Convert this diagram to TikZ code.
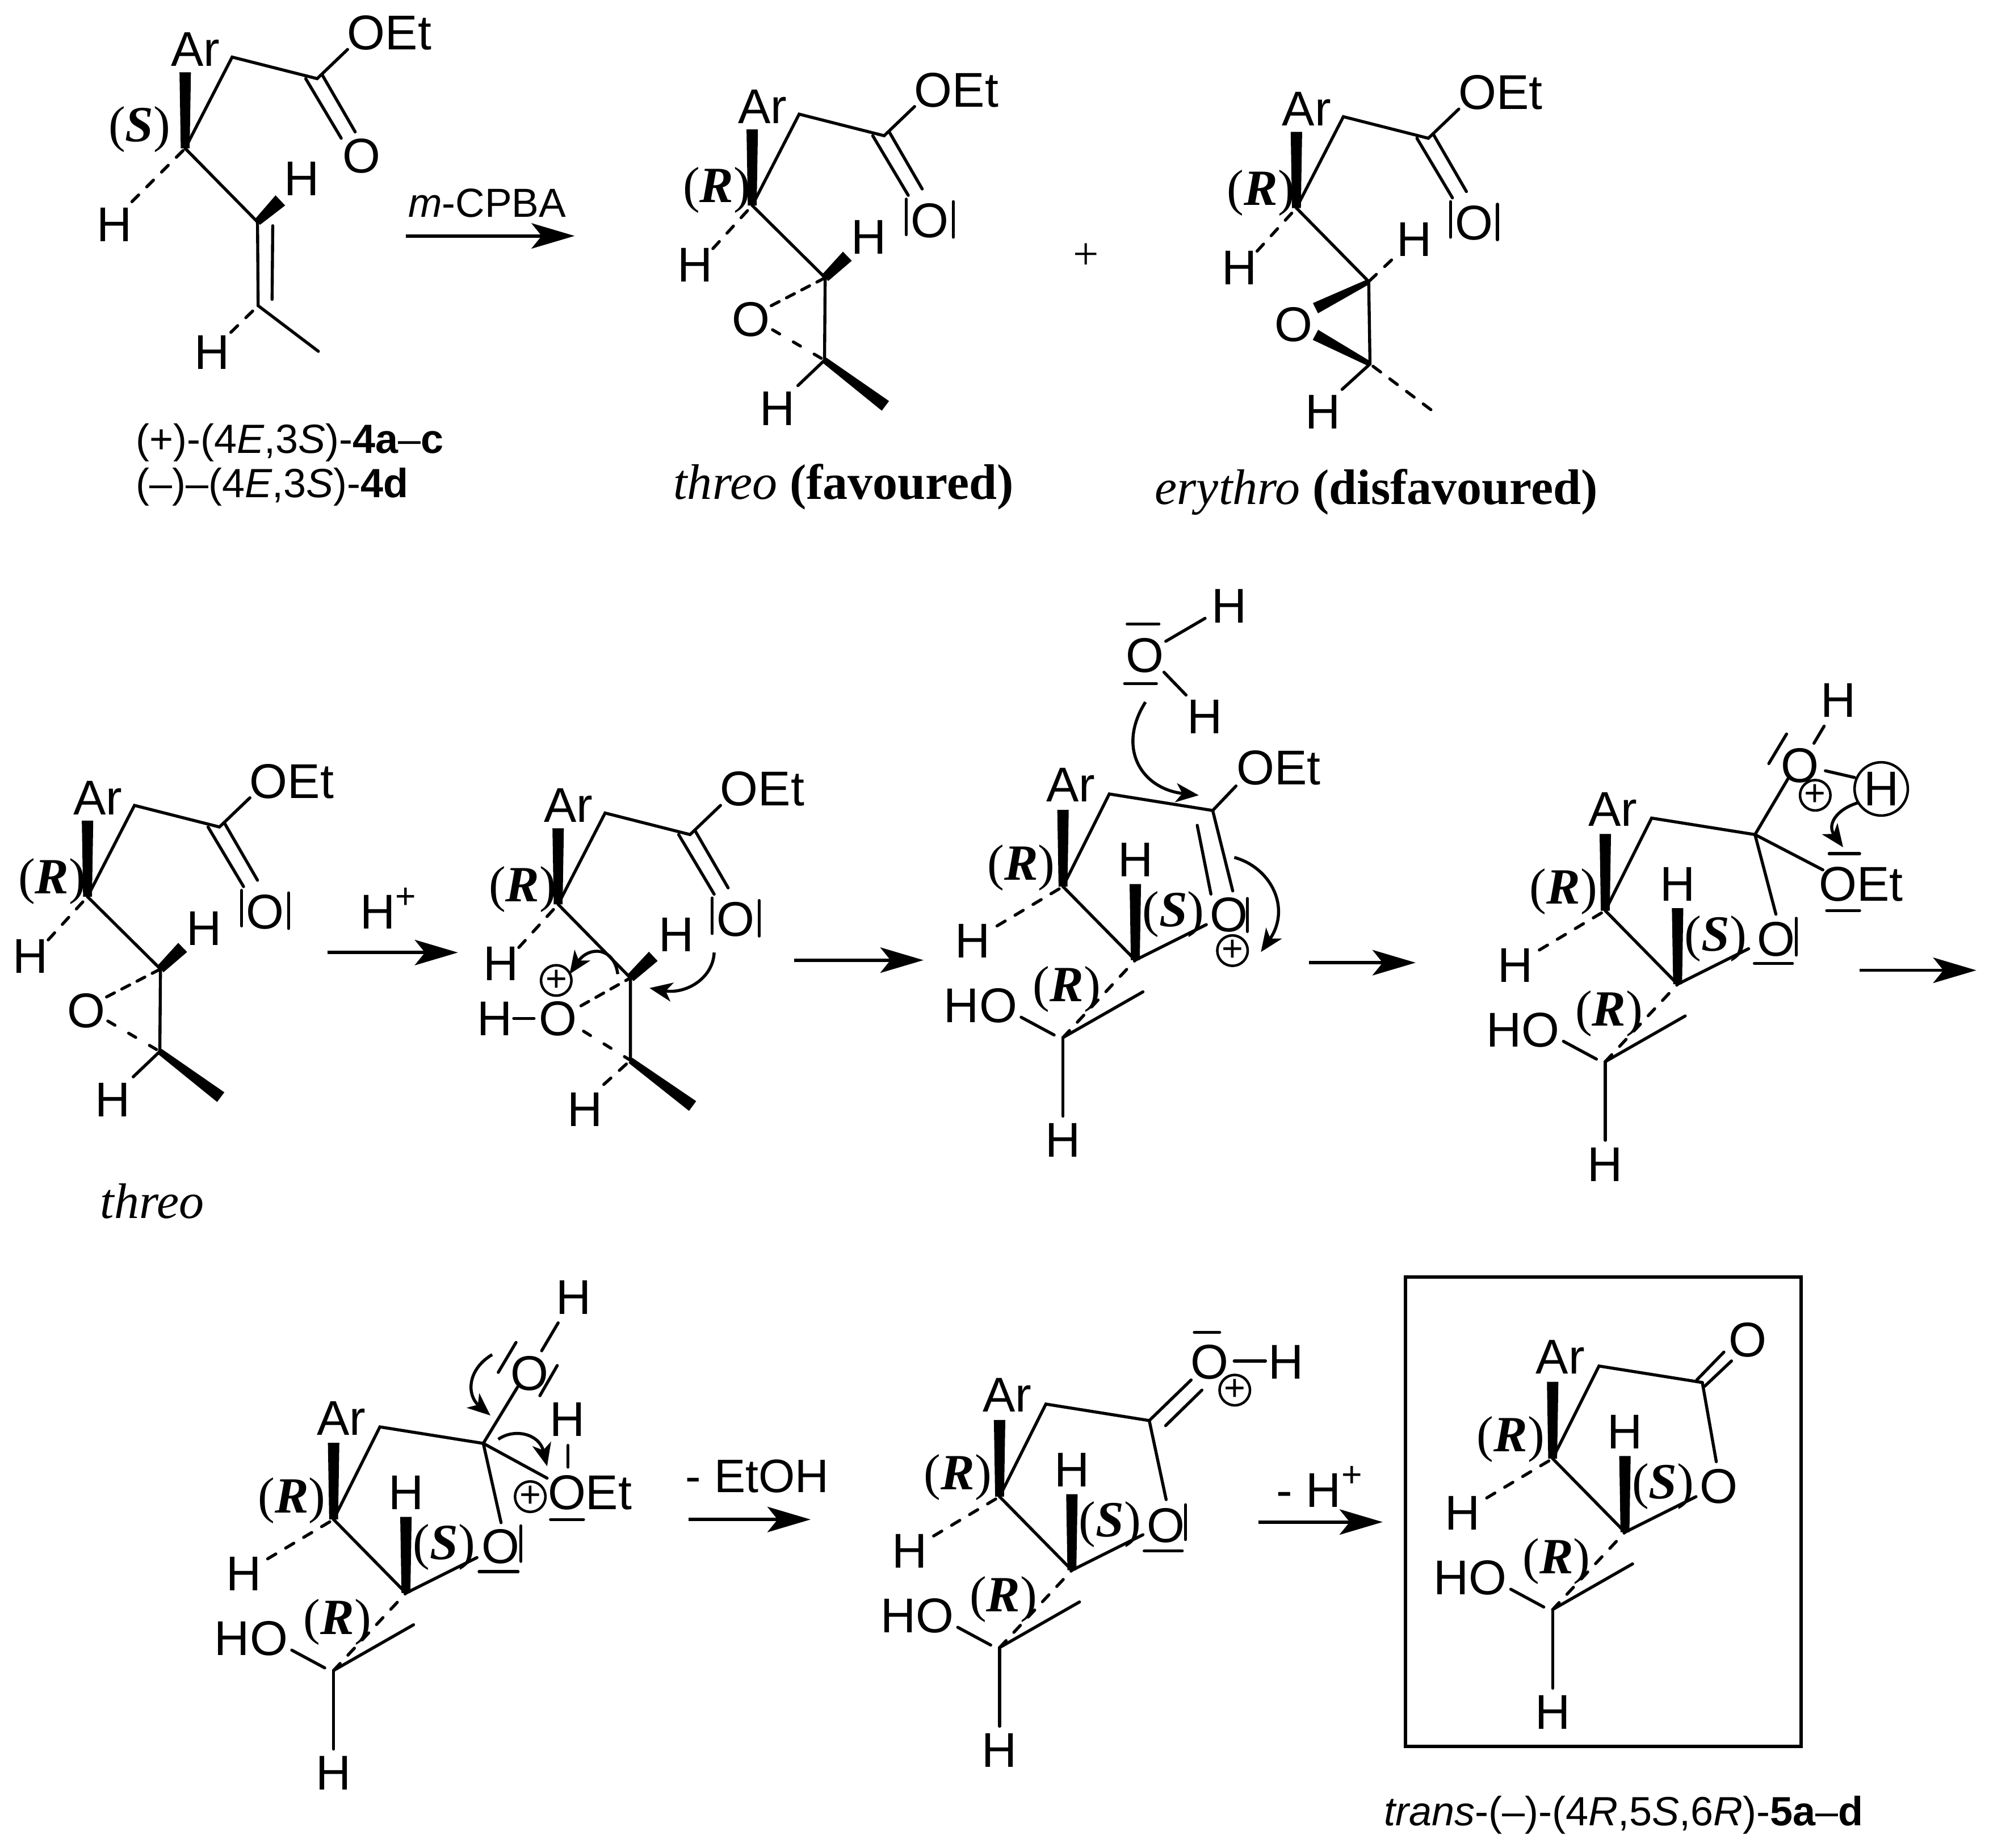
\documentclass[tikz,border=0pt]{standalone}
\usepackage{fontspec}
\setmainfont{Liberation Sans}
\newfontfamily\tnr{Liberation Serif}
\usetikzlibrary{calc,arrows.meta}
\tikzset{
  bond/.style={line width=2.4pt,line cap=round},
  dbond/.style={line width=2.4pt,line cap=round,dash pattern=on 7.5pt off 9pt},
  dtight/.style={line width=2.4pt,line cap=round,dash pattern=on 7pt off 6.5pt},
  dwide/.style={line width=2.4pt,line cap=round,dash pattern=on 6.5pt off 12.5pt},
  lab/.style={inner sep=0pt,font=\fontsize{38.5}{44}\selectfont},
  stlab/.style={inner sep=0pt,font=\fontsize{40}{44}\selectfont\tnr},
  captext/.style={inner sep=0pt,anchor=west,font=\fontsize{32.2}{36}\selectfont},
  seriflab/.style={inner sep=0pt,font=\fontsize{39.4}{46}\selectfont\tnr},
  rxn/.style={line width=2.6pt,-{Stealth[length=34pt,width=20pt,inset=8pt]}},
  carrow/.style={line width=2.4pt,-{Stealth[length=18pt,width=15pt,inset=5pt]}},
  pc/.style={circle,draw,line width=2pt,minimum size=24pt,inner sep=0pt,font=\fontsize{29}{29}\selectfont}
}
\newcommand\wbond[4]{\fill ($#1!#3/2!90:#2$) -- ($#1!#3/2!-90:#2$) -- ($#2!#4/2!90:#1$) -- ($#2!#4/2!-90:#1$) -- cycle;}
\newcommand\lp[3]{\draw[bond] ([shift={(#2)}]#1.center) -- ([shift={(#3)}]#1.center);}
\newcommand\st[1]{(\textbf{\textit{#1}})}
\newcommand\hpl[1]{\raisebox{.42em}{\fontsize{28}{28}\selectfont #1}}
\newcommand\rxnarrow[4]{\coordinate (#1s) at (#2,#4); \coordinate (#1e) at (#3,#4); \draw[rxn] (#1s) -- (#1e);}
% open-chain ester part, relative to the stereocentre
\newcommand\esterhead{%
  \coordinate (c3) at (0,0); \coordinate (wt) at (0,-60);
  \coordinate (ch2) at (37,-72); \coordinate (c1) at (104,-55); \coordinate (oe) at (128,-78);
  \coordinate (da) at (95,-55); \coordinate (db) at (123,-8);
  \coordinate (dc) at (108,-58); \coordinate (dd) at (134,-13);
  \node[lab] (ar) at (8,-78) {Ar};
  \node[lab] (oet) at (161,-91) {OEt};
  \wbond{(c3)}{(wt)}{7pt}{9pt}
  \draw[bond] (c3) -- (ch2) -- (c1) -- (oe);
  \draw[bond] (da) -- (db); \draw[bond] (dc) -- (dd);
}
\newcommand\barredO{%
  \node[lab] (o) at (140,12) {O};
  \lp{o}{-18.5,-17}{-18.5,11}\lp{o}{18.5,-15}{18.5,13}}
\newcommand\hdashR[1]{%
  \coordinate (hd) at (-31,34); \node[lab] (hl) at (-45,47) {H};
  \draw[dbond] (hd) -- (c3);
  \node[stlab] (st) at (-28,-12) {\st{#1}};}
% threo epoxide, relative to the stereocentre
\newcommand\threoepox{%
  \esterhead\barredO\hdashR{R}
  \coordinate (c4) at (57.5,57); \coordinate (c5) at (57,122);
  \coordinate (hw) at (75,40); \coordinate (me) at (105,158); \coordinate (hs) at (36,142);
  \node[lab] (h4) at (92,25) {H}; \node[lab] (h5) at (20,160) {H};
  \node[lab] (oep) at (-1,90) {O};
  \coordinate (oa) at (15,79); \coordinate (ob) at (16,98);
  \draw[bond] (c3) -- (c4) -- (c5);
  \wbond{(c4)}{(hw)}{7pt}{10pt}
  \wbond{(c5)}{(me)}{5pt}{9.5pt}
  \draw[dtight] (oa) -- (c4); \draw[dwide] (ob) -- (c5);
  \draw[bond] (c5) -- (hs);}
% lactone-ring core, relative to the stereocentre
\newcommand\lactonecore{%
  \coordinate (c3) at (0,0); \coordinate (wt) at (0,-60.5);
  \coordinate (ch2) at (36.5,-73); \coordinate (c1) at (118,-60);
  \coordinate (c5) at (57,58); \coordinate (wt5) at (57,-2); \coordinate (o5) at (113,30);
  \coordinate (hd) at (-52,31); \coordinate (lc) at (0,119);
  \coordinate (hob) at (-33,103); \coordinate (hoe) at (-7,117);
  \coordinate (me) at (63,83); \coordinate (hb) at (0,181);
  \node[lab] (ar) at (6,-80) {Ar};
  \node[lab] (h5) at (57,-21) {H};
  \node[lab] (hl) at (-71,43) {H};
  \node[lab] (ho) at (-65,94) {HO};
  \node[lab] (hbl) at (0,200) {H};
  \node[stlab] (st1) at (-33,-15) {\st{R}};
  \node[stlab] (st2) at (87,22) {\st{S}};
  \node[stlab] (st3) at (3,81) {\st{R}};
  \wbond{(c3)}{(wt)}{7pt}{9pt}
  \wbond{(c5)}{(wt5)}{7pt}{9pt}
  \draw[bond] (c3) -- (ch2) -- (c1);
  \draw[bond] (c3) -- (c5) -- (o5);
  \draw[dbond] (hd) -- (c3);
  \draw[dbond] (lc) -- (c5);
  \draw[bond] (hob) -- (hoe);
  \draw[bond] (lc) -- (me);
  \draw[bond] (lc) -- (hb);}
\begin{document}
\begin{tikzpicture}[x=1pt,y=-1pt]
\path[use as bounding box,fill=white] (0,0) rectangle (1568,1457);

% ---- starting alkene
\begin{scope}[shift={(146,117)},name prefix=A-]
  \esterhead
  \node[lab] (o) at (139,6) {O};
  \coordinate (hd) at (-42,42); \node[lab] (hl) at (-56,60) {H};
  \draw[dbond] (hd) -- (c3);
  \node[stlab] (st) at (-36,-15) {\st{S}};
  \coordinate (c4) at (57,58); \coordinate (c5) at (57.5,124);
  \coordinate (hw) at (75,41); \coordinate (me) at (105,160); \coordinate (hs) at (36,145);
  \coordinate (dbe) at (69,61); \coordinate (dbf) at (68.5,119);
  \node[lab] (h4) at (92,24) {H}; \node[lab] (h5) at (21,161) {H};
  \draw[bond] (c3) -- (c4) -- (c5) -- (me);
  \draw[bond] (dbe) -- (dbf);
  \wbond{(c4)}{(hw)}{6pt}{11pt}
  \draw[dbond] (hs) -- (c5);
\end{scope}
\node[captext] (capa) at (107,349) {(+)-(4\textit{E},3\textit{S})-\textbf{4a}–\textbf{c}};
\node[captext] (capb) at (107,384) {(–)–(4\textit{E},3\textit{S})-\textbf{4d}};
\rxnarrow{r1}{320}{453}{186}
\node[inner sep=0pt,font=\fontsize{32}{36}\selectfont] (mcpba) at (384,160) {\textit{m}-CPBA};

% ---- threo
\begin{scope}[shift={(593,162)},name prefix=B-]
  \threoepox
\end{scope}
\node[seriflab] (capt) at (665,384) {\textit{threo} \textbf{(favoured)}};
\node[inner sep=0pt,font=\fontsize{36}{38}\selectfont\tnr] (plus) at (856,202) {+};

% ---- erythro
\begin{scope}[shift={(1022,164)},name prefix=C-]
  \esterhead\barredO\hdashR{R}
  \coordinate (c4) at (57,58); \coordinate (c5) at (58,123);
  \coordinate (hd4) at (75,41); \coordinate (me) at (106,159); \coordinate (hs) at (36,143);
  \coordinate (oa) at (15,79); \coordinate (ob) at (15,100);
  \node[lab] (h4) at (93,25) {H}; \node[lab] (h5) at (21,161) {H};
  \node[lab] (oep) at (-2,92) {O};
  \draw[bond] (c3) -- (c4) -- (c5) -- (hs);
  \draw[dbond] (hd4) -- (c4);
  \draw[dbond] (me) -- (c5);
  \wbond{(c4)}{(oa)}{4pt}{9pt}
  \wbond{(c5)}{(ob)}{4pt}{9pt}
\end{scope}
\node[seriflab] (cape) at (1085,388) {\textit{erythro} \textbf{(disfavoured)}};

% ---- row 2: threo
\begin{scope}[shift={(69,707)},name prefix=D-]
  \threoepox
\end{scope}
\node[seriflab] (capd) at (120,947) {\textit{threo}};
\rxnarrow{r2}{258}{361}{751}
\node[lab] (hplus) at (306,716) {H\hpl{+}};

% ---- protonated epoxide
\begin{scope}[shift={(440,713)},name prefix=E-]
  \esterhead\barredO\hdashR{R}
  \coordinate (c4) at (57,58); \coordinate (c5) at (57,123);
  \coordinate (hw) at (75,41); \coordinate (me) at (106,159); \coordinate (hs) at (36,142);
  \node[lab] (h4) at (93,24) {H}; \node[lab] (h5) at (21,162) {H};
  \node[lab] (oep) at (0,90) {O};
  \node[lab] (hm) at (-50,90) {H};
  \coordinate (oa) at (18,80); \coordinate (ob) at (20,100);
  \coordinate (hoa) at (-35,90); \coordinate (hob) at (-19,90);
  \draw[bond] (c3) -- (c4) -- (c5);
  \draw[bond] (hoa) -- (hob);
  \wbond{(c4)}{(hw)}{7pt}{10pt}
  \wbond{(c5)}{(me)}{5pt}{9.5pt}
  \draw[dtight] (oa) -- (c4); \draw[dwide] (ob) -- (c5);
  \draw[dbond] (hs) -- (c5);
  \node[pc] (pl) at (-1.5,60) {+};
\end{scope}
\coordinate (ca1s) at (487,768); \coordinate (ca1e) at (449,768);
\draw[carrow] (ca1s) .. controls (484,746) and (464,746) .. (ca1e);
\coordinate (ca2s) at (563,751); \coordinate (ca2e) at (512,779);
\draw[carrow] (ca2s) .. controls (562,772) and (540,784) .. (ca2e);
\rxnarrow{r3}{626}{728}{757}

% ---- water attack
\begin{scope}[shift={(838,699)},name prefix=F-]
  \lactonecore
\end{scope}
\node[lab] (Fw) at (902.6,517) {O};
\lp{Fw}{-14,-25}{11,-25}\lp{Fw}{-16,22}{9,22}
\node[lab] (Fh1) at (969,478) {H};
\node[lab] (Fh2) at (950,565) {H};
\coordinate (Fwa) at (919,505.6); \coordinate (Fwb) at (950,487.5);
\coordinate (Fwc) at (917.6,530); \coordinate (Fwd) at (935,548);
\draw[bond] (Fwa) -- (Fwb); \draw[bond] (Fwc) -- (Fwd);
\coordinate (ca3s) at (903,553.5); \coordinate (ca3e) at (945,627);
\draw[carrow] (ca3s) .. controls (880,590) and (900,622) .. (ca3e);
\node[lab] (Foet) at (1008,605.5) {OEt};
\coordinate (Foe) at (974.4,619.7);
\draw[bond] (F-c1) -- (Foe);
\coordinate (Fda) at (971.8,702.4); \coordinate (Fdb) at (943.8,650.7); \coordinate (Fdc) at (954.6,704.9);
\draw[bond] (F-c1) -- (Fda); \draw[bond] (Fdb) -- (Fdc);
\node[lab] (Fo) at (968.8,721.4) {O};
\lp{Fo}{14.5,-13}{14.5,13}
\node[pc] (Fp) at (971.6,749.5) {+};
\coordinate (ca4s) at (973,676); \coordinate (ca4e) at (994,750.6);
\draw[carrow] (ca4s) .. controls (1002,684) and (1018,716) .. (ca4e);
\rxnarrow{r4}{1032}{1116}{759}

% ---- tetrahedral intermediate
\begin{scope}[shift={(1265.5,718)},name prefix=G-]
  \lactonecore
\end{scope}
\node[lab] (Go) at (1419,603.7) {O};
\node[lab] (Gh) at (1449,552) {H};
\coordinate (Goa) at (1438,572.5); \coordinate (Gob) at (1430,586);
\draw[bond] (Goa) -- (Gob);
\lp{Go}{-10.6,-25}{-24.6,-1.7}
\node[pc] (Gp) at (1431,627) {+};
\node[circle,draw,line width=2pt,minimum size=42pt,inner sep=0pt,font=\fontsize{38.5}{44}\selectfont] (Ghc) at (1483,622) {H};
\coordinate (Gha) at (1439,607.7); \coordinate (Ghb) at (1462,613);
\draw[bond] (Gha) -- (Ghb);
\coordinate (Gcb) at (1409.5,614);
\draw[bond] (G-c1) -- (Gcb);
\coordinate (ca5s) at (1464.5,633); \coordinate (ca5e) at (1453,668);
\draw[carrow] (ca5s) .. controls (1448,638) and (1440,650) .. (ca5e);
\node[lab] (Goet) at (1467,697) {OEt};
\lp{Goet}{-25,-24}{-1,-24}\lp{Goet}{-27,21}{-1,21}
\coordinate (Gea) at (1437,685.8);
\draw[bond] (G-c1) -- (Gea);
\node[lab] (Gro) at (1400,740.5) {O};
\lp{Gro}{16,-16.5}{16,12.5}\lp{Gro}{-17,19}{13,19}
\coordinate (Grb) at (1400,720.8);
\draw[bond] (G-c1) -- (Grb);
\rxnarrow{r5}{1466}{1558}{765}

% ---- loss of ethanol (row 3)
\begin{scope}[shift={(263,1198)},name prefix=H-]
  \lactonecore
\end{scope}
\node[lab] (Ho) at (417.6,1083) {O};
\node[lab] (Hh) at (452,1023) {H};
\coordinate (Hoa) at (440,1043); \coordinate (Hob) at (427,1065);
\draw[bond] (Hoa) -- (Hob);
\lp{Ho}{-10.8,-24.6}{-24.8,-1}\lp{Ho}{21.7,-6.4}{8,17.4}
\coordinate (Hcb) at (408,1093.6);
\draw[bond] (H-c1) -- (Hcb);
\coordinate (ca6s) at (388,1068); \coordinate (ca6e) at (386.6,1116);
\draw[carrow] (ca6s) .. controls (368,1080) and (368,1100) .. (ca6e);
\coordinate (ca7s) at (392.8,1134.8); \coordinate (ca7e) at (431.3,1156);
\draw[carrow] (ca7s) .. controls (405,1126) and (425,1130) .. (ca7e);
\coordinate (Hea) at (431.3,1165.4);
\draw[bond] (H-c1) -- (Hea);
\node[lab] (Hh2) at (447.3,1119) {H};
\node[lab] (Hoet) at (465,1177) {OEt};
\lp{Hoet}{-17.2,-37.4}{-17.2,-20.3}\lp{Hoet}{-31,21}{-5,21}
\node[pc] (Hp) at (418,1180) {+};
\node[lab] (Hro) at (394.7,1219.5) {O};
\lp{Hro}{16,-16.5}{16,11.5}\lp{Hro}{-17,19.5}{13.7,19.5}
\coordinate (Hrb) at (395,1200.5);
\draw[bond] (H-c1) -- (Hrb);
\rxnarrow{r6}{543}{639}{1198}
\node[lab,font=\fontsize{37}{42}\selectfont] (etoh) at (597,1164) {- EtOH};

% ---- protonated lactone
\begin{scope}[shift={(788,1180)},name prefix=I-]
  \lactonecore
  \node[lab] (o) at (165.5,-106) {O};
  \lp{o}{-12,-23.5}{8,-23.5}
  \node[lab] (h) at (225.6,-106) {H};
  \coordinate (ha) at (185,-107); \coordinate (hb2) at (209.6,-107);
  \draw[bond] (ha) -- (hb2);
  \node[pc] (p) at (185.4,-84) {+};
  \coordinate (da) at (151,-92); \coordinate (db) at (130.9,-56); \coordinate (dc) at (159.5,-84);
  \draw[bond] (c1) -- (da); \draw[bond] (db) -- (dc);
  \coordinate (rb) at (131.3,2.3);
  \draw[bond] (c1) -- (rb);
  \node[lab] (ro) at (131.3,22.8) {O};
  \lp{ro}{15.3,-16.4}{15.3,11}\lp{ro}{-17.3,19.9}{12.7,19.9}
\end{scope}
\rxnarrow{r7}{992}{1090}{1200}
\node[lab] (hloss) at (1040,1172) {- H\hpl{+}};

% ---- product
\draw[line width=2.6pt] (1108,1007) rectangle (1420,1377);
\begin{scope}[shift={(1224,1150)},name prefix=J-]
  \lactonecore
  \coordinate (da) at (113.6,-62); \coordinate (db) at (135,-84);
  \coordinate (dc) at (119.8,-57); \coordinate (dd) at (141,-77);
  \draw[bond] (da) -- (db); \draw[bond] (dc) -- (dd);
  \node[lab] (o) at (154,-93.4) {O};
  \coordinate (rb) at (129,2.4);
  \draw[bond] (c1) -- (rb);
  \node[lab] (ro) at (131,22) {O};
\end{scope}
\node[captext,anchor=center] (capj) at (1280,1431) {\textit{trans}-(–)-(4\textit{R},5\textit{S},6\textit{R})-\textbf{5a}–\textbf{d}};
\end{tikzpicture}
\end{document}
